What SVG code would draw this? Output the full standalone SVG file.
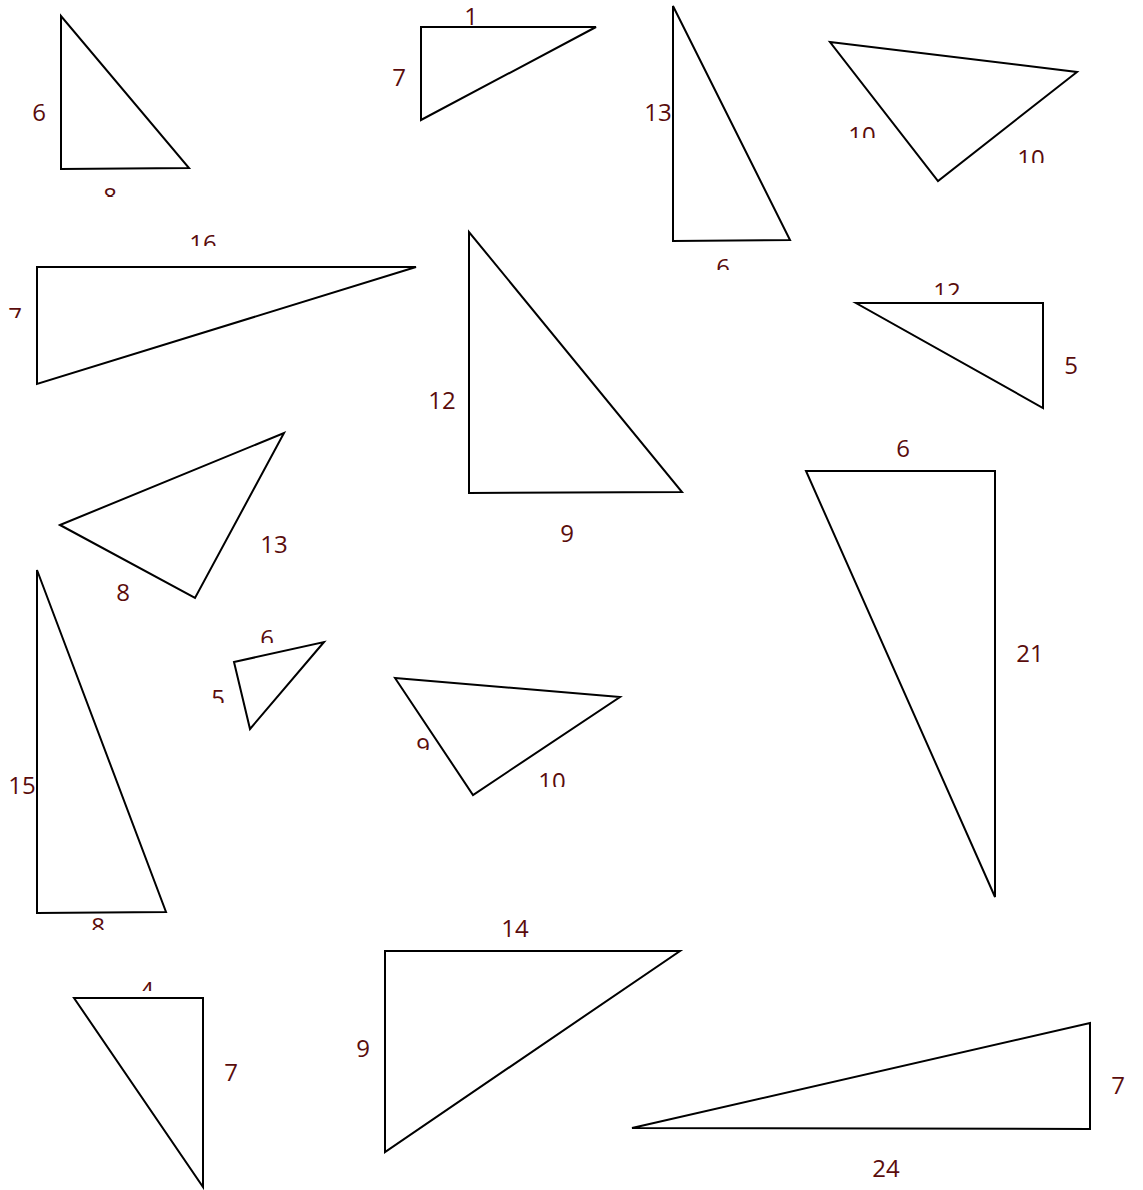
<svg xmlns="http://www.w3.org/2000/svg" width="1143" height="1190" viewBox="0 0 1143 1190">
<style>
.t{fill:#fff;stroke:#000;stroke-width:2;stroke-linejoin:miter}
.l{font-family:"Open Sans","Liberation Sans",sans-serif;font-size:24px;fill:#5a0c0c;text-anchor:middle}
</style>
<defs>
<clipPath id="c1"><rect x="0" y="0" width="1143" height="197"/></clipPath>
<clipPath id="c3"><rect x="0" y="0" width="1143" height="270"/></clipPath>
<clipPath id="c4a"><rect x="0" y="0" width="1143" height="138"/></clipPath>
<clipPath id="c4b"><rect x="0" y="0" width="1143" height="163"/></clipPath>
<clipPath id="c5a"><rect x="0" y="0" width="1143" height="246"/></clipPath>
<clipPath id="c5b"><rect x="0" y="0" width="1143" height="318"/></clipPath>
<clipPath id="c7"><rect x="0" y="0" width="1143" height="295"/></clipPath>
<clipPath id="c10"><rect x="0" y="0" width="1143" height="930"/></clipPath>
<clipPath id="c11a"><rect x="0" y="0" width="1143" height="643"/></clipPath>
<clipPath id="c11b"><rect x="0" y="0" width="1143" height="703"/></clipPath>
<clipPath id="c12a"><rect x="0" y="0" width="1143" height="750"/></clipPath>
<clipPath id="c12b"><rect x="0" y="0" width="1143" height="787"/></clipPath>
<clipPath id="c13"><rect x="0" y="0" width="1143" height="991"/></clipPath>
</defs>
<rect width="1143" height="1190" fill="#fff"/>
<g id="t1"><polygon class="t" points="61,16 61,169 189,168"/><text class="l" x="39" y="121">6</text><text class="l" x="110" y="205" clip-path="url(#c1)">8</text></g>
<g id="t2"><polygon class="t" points="421,27 596,27 421,120"/><text class="l" x="471" y="25">1</text><text class="l" x="399" y="86">7</text></g>
<g id="t3"><polygon class="t" points="673,6 673,241 790,240"/><text class="l" x="658" y="121">13</text><text class="l" x="723" y="276" clip-path="url(#c3)">6</text></g>
<g id="t4"><polygon class="t" points="830,42 1077,72 938,181"/><text class="l" x="862" y="144" clip-path="url(#c4a)">10</text><text class="l" x="1031" y="167" clip-path="url(#c4b)">10</text></g>
<g id="t5"><polygon class="t" points="37,267 416,267 37,384"/><text class="l" x="203" y="252" clip-path="url(#c5a)">16</text><text class="l" x="15" y="325" clip-path="url(#c5b)">7</text></g>
<g id="t6"><polygon class="t" points="469,232 469,493 682,492"/><text class="l" x="442" y="409">12</text><text class="l" x="567" y="542">9</text></g>
<g id="t7"><polygon class="t" points="856,303 1043,303 1043,408"/><text class="l" x="947" y="300" clip-path="url(#c7)">12</text><text class="l" x="1071" y="374">5</text></g>
<g id="t8"><polygon class="t" points="60,525 284,433 195,598"/><text class="l" x="274" y="553">13</text><text class="l" x="123" y="601">8</text></g>
<g id="t9"><polygon class="t" points="806,471 995,471 995,897"/><text class="l" x="903" y="457">6</text><text class="l" x="1030" y="662">21</text></g>
<g id="t10"><polygon class="t" points="37,570 37,913 166,912"/><text class="l" x="22" y="794">15</text><text class="l" x="98" y="935" clip-path="url(#c10)">8</text></g>
<g id="t11"><polygon class="t" points="234,662 324,642 250,729"/><text class="l" x="267" y="647" clip-path="url(#c11a)">6</text><text class="l" x="218" y="707" clip-path="url(#c11b)">5</text></g>
<g id="t12"><polygon class="t" points="395,678 620,697 473,795"/><text class="l" x="423" y="755" clip-path="url(#c12a)">9</text><text class="l" x="552" y="790" clip-path="url(#c12b)">10</text></g>
<g id="t13"><polygon class="t" points="74,998 203,998 203,1187"/><text class="l" x="147" y="999" clip-path="url(#c13)">4</text><text class="l" x="231" y="1081">7</text></g>
<g id="t14"><polygon class="t" points="385,951 680,951 385,1152"/><text class="l" x="515" y="937">14</text><text class="l" x="363" y="1057">9</text></g>
<g id="t15"><polygon class="t" points="632,1128 1090,1023 1090,1129"/><text class="l" x="1118" y="1094">7</text><text class="l" x="886" y="1177">24</text></g>
<g id="connectors"/>
</svg>
